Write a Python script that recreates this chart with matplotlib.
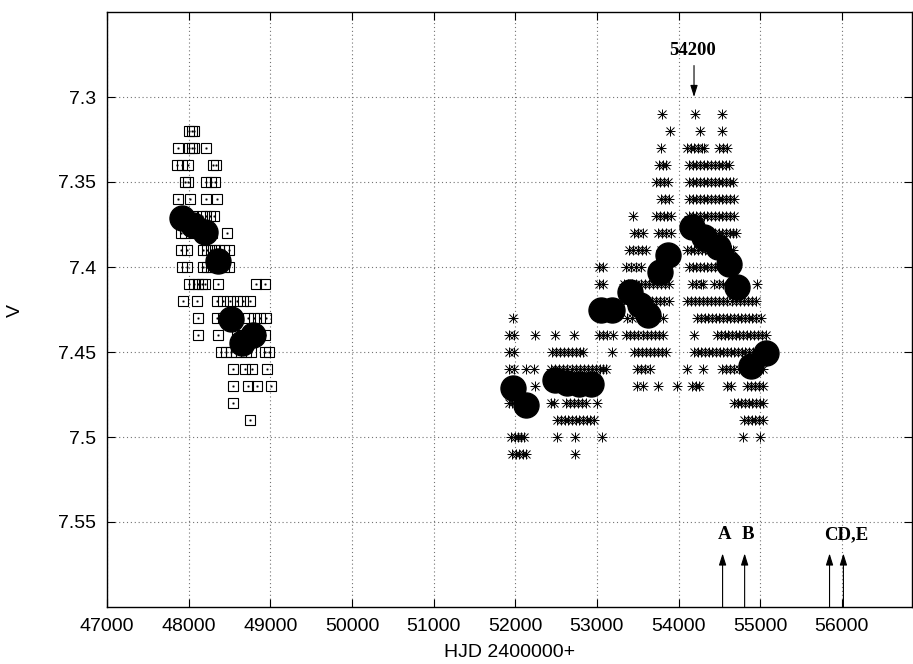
import matplotlib
matplotlib.use("Agg")
import matplotlib.pyplot as plt

# ---------------- data ----------------
# early photometry (open squares): V level -> HJD list
sq_levels = [7.32, 7.33, 7.34, 7.35, 7.36, 7.37, 7.38, 7.39, 7.40, 7.41,
             7.42, 7.43, 7.44, 7.45, 7.46, 7.47, 7.48, 7.49]
sq_hjd = [
    [48010, 48035, 48060],
    [47870, 48010, 48035, 48060, 48215],
    [47860, 47920, 47990, 48300, 48335],
    [47950, 47995, 48215, 48270, 48325],
    [47870, 48015, 48215, 48350],
    [47900, 47960, 48050, 48160, 48210, 48260, 48305],
    [47910, 47960, 48060, 48120, 48200, 48280, 48470],
    [47910, 47985, 48170, 48220, 48270, 48320, 48370, 48430, 48490],
    [47920, 47980, 48170, 48220, 48270, 48320, 48370, 48430, 48490],
    [48010, 48060, 48110, 48160, 48205, 48360, 48830, 48940],
    [47930, 48100, 48348, 48420, 48506, 48592, 48665, 48750],
    [48115, 48350, 48420, 48500, 48560, 48730, 48800, 48870, 48950],
    [48115, 48360, 48590, 48650, 48720, 48790, 48860, 48930],
    [48400, 48460, 48520, 48580, 48640, 48700, 48760, 48940, 48990],
    [48545, 48690, 48775, 48960],
    [48545, 48725, 48840, 49010],
    [48545],
    [48750],
]

# later photometry (asterisks): V level -> HJD list
st_levels = [7.31, 7.32, 7.33, 7.34, 7.35, 7.36, 7.37, 7.38, 7.39, 7.40,
             7.41, 7.42, 7.43, 7.44, 7.45, 7.46, 7.47, 7.48, 7.49, 7.50, 7.51]
st_hjd = [
    [53800, 54200, 54535],
    [53895, 54265, 54535],
    [53785, 54105, 54150, 54195, 54240, 54285, 54315, 54495, 54545, 54595],
    [53760, 53805, 53850, 54130, 54175, 54220, 54265, 54310, 54355, 54400,
     54445, 54490, 54535, 54580, 54620],
    [53725, 53770, 53820, 53870, 54130, 54175, 54220, 54265, 54310, 54355,
     54400, 54445, 54490, 54535, 54580, 54625, 54670],
    [53785, 53835, 53885, 54130, 54175, 54220, 54265, 54310, 54355, 54400,
     54445, 54490, 54535, 54580, 54630, 54680],
    [53445, 53725, 53770, 53820, 53865, 53910, 54130, 54175, 54220, 54265,
     54310, 54355, 54400, 54445, 54490, 54535, 54580, 54630, 54680],
    [53455, 53510, 53565, 53750, 53800, 53850, 53910, 54130, 54175, 54220,
     54265, 54310, 54355, 54400, 54445, 54490, 54535, 54580, 54630, 54670,
     54705],
    [53395, 53445, 53500, 53550, 53600, 53785, 53835, 53885, 53935, 54105,
     54150, 54195, 54240, 54285, 54330, 54375, 54420, 54465, 54510, 54555,
     54600, 54640, 54670],
    [53030, 53075, 53360, 53420, 53480, 53540, 54130, 54175, 54220, 54265,
     54310, 54355, 54400, 54445, 54500],
    [53030, 53075, 53335, 53385, 53435, 53485, 53535, 53585, 53635, 53685,
     53735, 53785, 53835, 53885, 54170, 54220, 54270, 54300, 54440, 54495,
     54545, 54965],
    [53370, 53420, 53470, 53520, 53570, 53620, 53670, 53720, 53770, 53820,
     53885, 54105, 54150, 54200, 54250, 54300, 54350, 54400, 54450, 54500,
     54550, 54600, 54650, 54700, 54750, 54800, 54850, 54900, 54950],
    [51975, 53370, 53430, 53810, 54230, 54275, 54320, 54365, 54410, 54455,
     54500, 54545, 54590, 54635, 54680, 54725, 54770, 54815, 54860, 54905,
     54950, 55010],
    [51925, 51985, 52245, 52490, 52720, 53030, 53080, 53130, 53200, 53360,
     53410, 53460, 53510, 53560, 53610, 53660, 53710, 53760, 53810, 54190,
     54475, 54520, 54565, 54610, 54655, 54700, 54745, 54790, 54835, 54880,
     54925, 54970, 55020, 55070],
    [51925, 51985, 52450, 52500, 52550, 52600, 52650, 52700, 52750, 52790,
     52830, 53185, 53455, 53505, 53555, 53605, 53655, 53700, 53750, 53800,
     53850, 54190, 54235, 54280, 54325, 54370, 54415, 54460, 54505, 54550,
     54595, 54640, 54685, 54730, 54775, 54820, 54865, 54910, 54955, 55000,
     55040, 55075],
    [51925, 51985, 52135, 52230, 52440, 52490, 52540, 52590, 52640, 52690,
     52740, 52790, 52840, 52890, 52940, 52990, 53040, 53080, 53115, 53495,
     53545, 53595, 53650, 54105, 54300, 54535, 54585, 54635, 54685, 54735,
     54785, 54835, 54885, 54935, 54985, 55035],
    [51930, 51990, 52060, 52245, 52460, 52510, 52560, 52610, 52660, 52710,
     52760, 52810, 52860, 52910, 52960, 53495, 53565, 53750, 53985, 54165,
     54210, 54250, 54595, 54640, 54840, 54890, 54940, 54990, 55035],
    [51925, 51960, 52440, 52475, 52625, 52670, 52720, 52770, 52820, 52870,
     53005, 54680, 54725, 54770, 54815, 54860, 54905, 54950, 54995, 55035],
    [52515, 52560, 52605, 52650, 52695, 52740, 52785, 52830, 52875, 52920,
     52965, 54805, 54850, 54895, 54940, 54985, 55035],
    [51950, 51995, 52040, 52075, 52110, 52515, 52735, 53065, 54790, 55000],
    [51960, 52005, 52050, 52090, 52135, 52735],
]

# seasonal means (filled circles)
mean_hjd = [47919, 48053, 48200, 48360, 48519, 48654, 48788,
            51974, 52133, 52488, 52635, 52782, 52929, 53052, 53186,
            53407, 53529, 53627, 53774, 53872, 54166, 54313, 54485,
            54620, 54718, 54889, 55073]
mean_v = [7.3712, 7.3753, 7.3794, 7.3965, 7.4306, 7.4447, 7.4400,
          7.4712, 7.4812, 7.4665, 7.4682, 7.4688, 7.4688, 7.4253, 7.4253,
          7.4147, 7.4224, 7.4282, 7.4029, 7.3929, 7.3765, 7.3824, 7.3882,
          7.3982, 7.4118, 7.4582, 7.4506]

# event markers
event_hjd = [54540, 54810, 55850, 56020]
event_labels = ["A", "B", "CD,E"]
event_label_hjd = [54560, 54855, 56060]
peak_hjd = 54190
peak_label = "54200"

xticks = [47000, 48000, 49000, 50000, 51000, 52000, 53000, 54000, 55000, 56000]
yticks = [7.30, 7.35, 7.40, 7.45, 7.50, 7.55]

# ---------------- figure ----------------
fig = plt.figure(figsize=(9.13, 6.64), dpi=100)
ax = fig.add_axes([107 / 913, 57 / 664, 805 / 913, 595 / 664])

ax.set_xlim(47000, 56860)
ax.set_ylim(7.60, 7.25)

# squares
sx, sy = [], []
for v, xs in zip(sq_levels, sq_hjd):
    sx += xs
    sy += [v] * len(xs)
ax.plot(sx, sy, ls="none", marker="s", ms=6.5, mfc="none", mec="black",
        mew=0.8, zorder=3)
ax.plot(sx, sy, ls="none", marker="s", ms=1.0, mfc="black", mec="black",
        mew=0.3, zorder=3)

# asterisks
tx, ty = [], []
for v, xs in zip(st_levels, st_hjd):
    tx += xs
    ty += [v] * len(xs)
ax.plot(tx, ty, ls="none", marker="+", ms=7.5, mec="black", mew=0.7, zorder=3)
ax.plot(tx, ty, ls="none", marker="x", ms=5.5, mec="black", mew=0.7, zorder=3)

# means
ax.plot(mean_hjd, mean_v, ls="none", marker="o", ms=18, mfc="black",
        mec="black", zorder=4)

# grid & ticks
ax.set_xticks(xticks)
ax.set_yticks(yticks)
ax.set_xticklabels([str(t) for t in xticks])
ax.set_yticklabels(["7.3", "7.35", "7.4", "7.45", "7.5", "7.55"])
ax.grid(True, color="0.45", ls=(0, (1, 2.5)), lw=0.8)
ax.tick_params(direction="in", length=6, width=0.8, top=True, right=True,
               labelsize=14, pad=8)
for lab in ax.get_xticklabels() + ax.get_yticklabels():
    lab.set_fontfamily("Liberation Sans")
for sp in ax.spines.values():
    sp.set_linewidth(1.0)

ax.set_xlabel("HJD 2400000+", fontsize=14, family="Liberation Sans")
ax.xaxis.set_label_coords(0.5, -0.062)
ax.set_ylabel("V", fontsize=14, family="Liberation Sans", rotation=90)
ax.yaxis.set_label_coords(-0.103, 0.499)

# annotations
ann = dict(fontsize=13.5, family="Liberation Serif", fontweight="bold",
           ha="center", va="center")
ax.text(peak_hjd - 20, 7.2725, peak_label, **ann)
ax.annotate("", xy=(peak_hjd, 7.300), xytext=(peak_hjd, 7.2815),
            arrowprops=dict(arrowstyle="-|>,head_length=0.7,head_width=0.22",
                            color="black", lw=0.8, shrinkA=0, shrinkB=0))
for xe in event_hjd:
    ax.annotate("", xy=(xe, 7.5685), xytext=(xe, 7.60),
                arrowprops=dict(arrowstyle="-|>,head_length=0.7,head_width=0.22",
                                color="black", lw=0.8, shrinkA=0, shrinkB=0))
for xl, lab in zip(event_label_hjd, event_labels):
    ax.text(xl, 7.5575, lab, **ann)

fig.savefig("out.png", dpi=100)
